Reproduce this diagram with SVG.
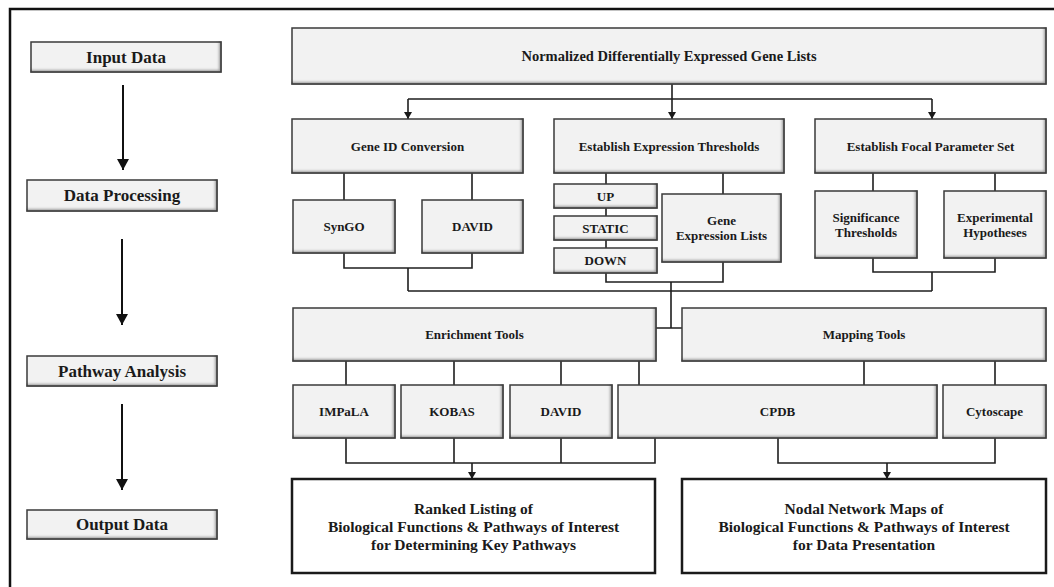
<svg xmlns="http://www.w3.org/2000/svg" width="1054" height="587" viewBox="0 0 1054 587">
<style>
.bx{fill:#f2f2f2;stroke:#3a3a3a;stroke-width:1.5;filter:url(#bev)}
.out{fill:#fff;stroke:#1a1a1a;stroke-width:2.5}
.t{font-family:"Liberation Serif","Times New Roman",serif;font-weight:bold;fill:#1a1a1a;text-anchor:middle;dominant-baseline:central}
.s13{font-size:13px}.s14{font-size:14.5px}.s15{font-size:15.5px}.s17{font-size:17px}
.ln{fill:none;stroke:#1f1f1f;stroke-width:1.6}
.lb{fill:none;stroke:#111;stroke-width:2}
</style>
<defs>
<filter id="bev" x="-5%" y="-10%" width="110%" height="120%">
<feOffset in="SourceAlpha" dx="-3" dy="-3" result="o"/>
<feGaussianBlur in="o" stdDeviation="1.2" result="b"/>
<feComposite in="SourceAlpha" in2="b" operator="out" result="edge"/>
<feFlood flood-color="#404040" flood-opacity="0.65"/>
<feComposite in2="edge" operator="in" result="sh"/>
<feMerge><feMergeNode in="SourceGraphic"/><feMergeNode in="sh"/></feMerge>
</filter>
<marker id="as" markerUnits="userSpaceOnUse" markerWidth="8" markerHeight="8" refX="7" refY="4" orient="auto"><path d="M0,0 L7,4 L0,8 Z" fill="#1a1a1a"/></marker>
<marker id="al" markerUnits="userSpaceOnUse" markerWidth="12" markerHeight="12" refX="11" refY="6" orient="auto"><path d="M0,0 L11,6 L0,12 Z" fill="#111"/></marker>
</defs>
<rect x="0" y="0" width="1054" height="587" fill="#fff"/>
<rect id="frame" x="10" y="9" width="1060" height="600" fill="none" stroke="#111" stroke-width="2.5"/>

<g id="connectors">
<path class="lb" d="M123,85 V170" marker-end="url(#al)"/>
<path class="lb" d="M122,239 V325" marker-end="url(#al)"/>
<path class="lb" d="M122,404 V490" marker-end="url(#al)"/>
<path class="ln" d="M672,84 V99 M408,99 H932"/>
<path class="ln" d="M408,99 V119" marker-end="url(#as)"/>
<path class="ln" d="M672,99 V119" marker-end="url(#as)"/>
<path class="ln" d="M932,99 V119" marker-end="url(#as)"/>
<path class="ln" d="M344,173 V200 M472,173 V200 M344,253 V268 H472 V253 M408,268 V291"/>
<path class="ln" d="M606,173 V184 M606,208 V216 M606,240 V248 M723,173 V194 M606,273 V282 H723 V262 M671,282 V328"/>
<path class="ln" d="M873,173 V191 M995,173 V191 M873,258 V272 H995 V258 M932,272 V291"/>
<path class="ln" d="M408,291 H932 M656,328 H682"/>
<path class="ln" d="M346,361 V385 M454,361 V385 M561,361 V385 M639,361 V385 M864,361 V385 M995,361 V385"/>
<path class="ln" d="M346,438 V463 H655 V438 M454,438 V463 M561,438 V463 M778,438 V463 H995 V438"/>
<path class="ln" d="M472,463 V479" marker-end="url(#as)"/>
<path class="ln" d="M887,463 V479" marker-end="url(#as)"/>
</g>

<g id="input-data"><rect class="bx" x="31" y="42" width="190" height="30"/><text class="t s17" x="126" y="57">Input Data</text></g>
<g id="data-processing"><rect class="bx" x="27" y="180" width="190" height="31"/><text class="t s17" x="122" y="195.5">Data Processing</text></g>
<g id="pathway-analysis"><rect class="bx" x="27" y="356" width="190" height="30"/><text class="t s17" x="122" y="371">Pathway Analysis</text></g>
<g id="output-data"><rect class="bx" x="27" y="510" width="190" height="29"/><text class="t s17" x="122" y="524.5">Output Data</text></g>

<g id="gene-lists"><rect class="bx" x="292" y="28" width="754" height="56"/><text class="t s14" x="669" y="56">Normalized Differentially Expressed Gene Lists</text></g>
<g id="gene-id-conversion"><rect class="bx" x="292" y="119" width="231" height="54"/><text class="t s13" x="407.5" y="146">Gene ID Conversion</text></g>
<g id="expression-thresholds"><rect class="bx" x="554" y="119" width="230" height="54"/><text class="t s13" x="669" y="146">Establish Expression Thresholds</text></g>
<g id="focal-parameter-set"><rect class="bx" x="815" y="119" width="231" height="54"/><text class="t s13" x="930.5" y="146">Establish Focal Parameter Set</text></g>

<g id="syngo"><rect class="bx" x="293" y="200" width="102" height="53"/><text class="t s13" x="344" y="226.5">SynGO</text></g>
<g id="david-1"><rect class="bx" x="422" y="200" width="101" height="53"/><text class="t s13" x="472.5" y="226.5">DAVID</text></g>
<g id="up"><rect class="bx" x="554" y="184" width="103" height="24"/><text class="t s13" x="605.5" y="196">UP</text></g>
<g id="static"><rect class="bx" x="554" y="216" width="103" height="24"/><text class="t s13" x="605.5" y="228">STATIC</text></g>
<g id="down"><rect class="bx" x="554" y="248" width="103" height="25"/><text class="t s13" x="605.5" y="260.5">DOWN</text></g>
<g id="gene-expression-lists"><rect class="bx" x="662" y="194" width="119" height="68"/><text class="t s13" x="721.5" y="220">Gene</text><text class="t s13" x="721.5" y="235">Expression Lists</text></g>
<g id="significance-thresholds"><rect class="bx" x="815" y="191" width="102" height="67"/><text class="t s13" x="866" y="217">Significance</text><text class="t s13" x="866" y="232">Thresholds</text></g>
<g id="experimental-hypotheses"><rect class="bx" x="944" y="191" width="102" height="67"/><text class="t s13" x="995" y="217">Experimental</text><text class="t s13" x="995" y="232">Hypotheses</text></g>

<g id="enrichment-tools"><rect class="bx" x="293" y="308" width="363" height="53"/><text class="t s13" x="474.5" y="334.5">Enrichment Tools</text></g>
<g id="mapping-tools"><rect class="bx" x="682" y="308" width="364" height="53"/><text class="t s13" x="864" y="334.5">Mapping Tools</text></g>

<g id="impala"><rect class="bx" x="293" y="385" width="102" height="53"/><text class="t s13" x="344" y="411.5">IMPaLA</text></g>
<g id="kobas"><rect class="bx" x="401" y="385" width="102" height="53"/><text class="t s13" x="452" y="411.5">KOBAS</text></g>
<g id="david-2"><rect class="bx" x="510" y="385" width="102" height="53"/><text class="t s13" x="561" y="411.5">DAVID</text></g>
<g id="cpdb"><rect class="bx" x="618" y="385" width="319" height="53"/><text class="t s13" x="777.5" y="411.5">CPDB</text></g>
<g id="cytoscape"><rect class="bx" x="943" y="385" width="103" height="53"/><text class="t s13" x="994.5" y="411.5">Cytoscape</text></g>

<g id="ranked-listing"><rect class="out" x="292" y="479" width="363" height="94"/>
<text class="t s15" x="473.5" y="508">Ranked Listing of</text>
<text class="t s15" x="473.5" y="526">Biological Functions &amp; Pathways of Interest</text>
<text class="t s15" x="473.5" y="544">for Determining Key Pathways</text></g>
<g id="nodal-network-maps"><rect class="out" x="682" y="479" width="364" height="94"/>
<text class="t s15" x="864" y="508">Nodal Network Maps of</text>
<text class="t s15" x="864" y="526">Biological Functions &amp; Pathways of Interest</text>
<text class="t s15" x="864" y="544">for Data Presentation</text></g>
</svg>
